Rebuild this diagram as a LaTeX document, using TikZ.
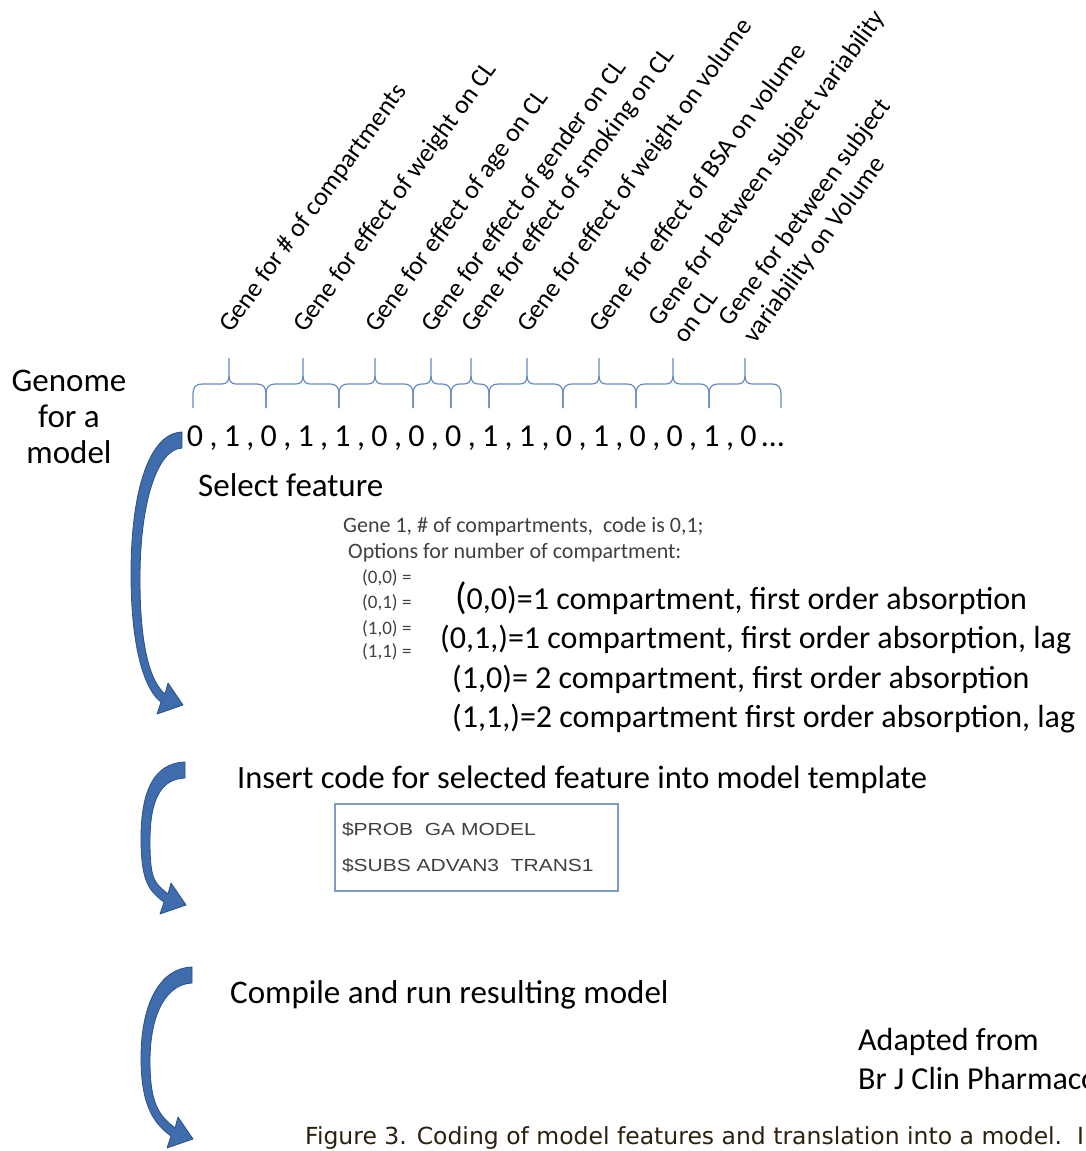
\documentclass[tikz,border=0pt]{standalone}
\usepackage{fontspec}
\setmainfont{Carlito}
\newfontfamily\codefont[FakeStretch=1.2]{Liberation Sans}
\newfontfamily\captionfont{DejaVu Sans}

\definecolor{bracecol}{RGB}{100,140,195}
\definecolor{arrowcol}{RGB}{62,108,172}
\definecolor{arrowedge}{RGB}{45,80,135}
\definecolor{boxcol}{RGB}{125,155,195}
\definecolor{greytext}{RGB}{64,64,64}
\definecolor{captioncol}{RGB}{45,32,15}

\newcommand{\genebrace}[3]{%
  \draw[bracepen] (#1,408) -- (#1,394)
    .. controls (#1,387) and ({#1+3},384) .. ({#1+9},384) -- ({#2-7},384)
    .. controls ({#2-2},384) and (#2,381) .. (#2,375) -- (#2,358)
    (#2,375) .. controls (#2,381) and ({#2+2},384) .. ({#2+7},384) -- ({#3-9},384)
    .. controls ({#3-3},384) and (#3,387) .. (#3,394) -- (#3,408);}

\newcommand{\bentarrow}[4]{%
  \filldraw[arrowpen] (#1,#2)
    .. controls ({#1-32},{#2+1}) and (#4,{#2+0.2*(#3-#2)}) .. (#4,{#2+0.5*(#3-#2)})
    .. controls (#4,{#2+0.78*(#3-#2)}) and ({#1-36},{#3-24}) .. ({#1-21},{#3-13})
    -- ({#1-25},{#3-1}) -- ({#1+1},{#3-10}) -- ({#1-14},{#3-32}) -- ({#1-17},{#3-21})
    .. controls ({#1-30},{#3-32}) and ({#4+9},{#2+0.78*(#3-#2)}) .. ({#4+9},{#2+0.52*(#3-#2)})
    .. controls ({#4+9},{#2+0.24*(#3-#2)}) and ({#1-24},{#2+17}) .. (#1,{#2+16}) -- cycle;}

\tikzset{
  bracepen/.style={draw=bracecol, line width=1.2pt},
  arrowpen/.style={fill=arrowcol, draw=arrowedge, line width=0.8pt, line join=round},
  heading/.style={font=\fontsize{33}{36}\selectfont, inner sep=0, anchor=base west},
  opt/.style={font=\fontsize{32}{36}\selectfont, inner sep=0, anchor=base west},
  small/.style={font=\fontsize{22}{26}\selectfont, text=greytext, inner sep=0, anchor=base west},
  tiny/.style={font=\fontsize{19}{22}\selectfont, text=greytext, inner sep=0, anchor=base west},
  genelabel/.style={font=\fontsize{26}{30}\selectfont, rotate=54, inner sep=0, anchor=base west, align=left},
  bit/.style={font=\fontsize{32}{36}\selectfont, inner sep=0, anchor=base},
  codebox/.style={draw=boxcol, line width=1.2pt, minimum width=283pt, minimum height=87pt,
    text width=269pt, inner xsep=7pt, align=left, text=greytext,
    font=\codefont\fontsize{17.5}{36}\selectfont},
  caption/.style={font=\captionfont\fontsize{23.5}{28}\selectfont, text=captioncol, inner sep=0, anchor=base west}
}

\begin{document}
\begin{tikzpicture}[x=1pt, y=-1pt]
  \useasboundingbox (0,0) rectangle (1085,1151);
  \clip (0,0) rectangle (1085,1151);

  \node[font=\fontsize{33}{36}\selectfont, inner sep=0, align=center] (genome) at (69,417.25) {Genome\\for a\\model};

  \foreach \l/\p/\r in {193/229/266, 266/303/339, 339/375/413, 413/431/451, 451/471/489,
                        489/527/563, 563/599/636, 636/673/709, 709/745/781}
    {\genebrace{\l}{\p}{\r}}

  \foreach \p/\txt [count=\i] in {229/Gene for \# of compartments,
                                  303/Gene for effect of weight on CL,
                                  375/Gene for effect of age on CL,
                                  431/Gene for effect of gender on CL,
                                  471/Gene for effect of smoking on CL,
                                  527/Gene for effect of weight on volume,
                                  599/Gene for effect of BSA on volume}
    \node[genelabel] (gene\i) at (\p+2,334) {\txt};
  \node[genelabel] (gene8) at (685,345) {Gene for between subject variability\\on CL};
  \node[genelabel] (gene9) at (755,345) {Gene for between subject\\variability on Volume};

  \foreach \b [count=\i from 0] in {0,1,0,1,1,0,0,0,1,1,0,1,0,0,1,0}
    \node[bit] (bit\i) at ({195+36.9*\i},446) {\b};
  \foreach \i in {0,...,14}
    \node[bit] (comma\i) at ({213.5+36.9*\i},446) {,};
  \node[bit] (bitdots) at (773,446) {…};

  \node[heading] (select) at (198,496) {Select feature};
  \node[small] (geneone) at (343,532) {Gene 1, \# of compartments,\ \ code is 0,1;};
  \node[small] (options) at (348,558) {Options for number of compartment:};
  \node[tiny] (code00) at (362,583) {(0,0) =};
  \node[tiny] (code01) at (362,608) {(0,1) =};
  \node[tiny] (code10) at (362,634) {(1,0) =};
  \node[tiny] (code11) at (362,657) {(1,1) =};
  \node[opt] (opt00) at (455,609) {{\fontsize{38}{36}\selectfont(}0,0)=1 compartment, first order absorption};
  \node[opt] (opt01) at (440,648) {(0,1,)=1 compartment, first order absorption, lag};
  \node[opt] (opt10) at (452,688) {(1,0)= 2 compartment, first order absorption};
  \node[opt] (opt11) at (452,727) {(1,1,)=2 compartment first order absorption, lag};

  \node[heading, font=\fontsize{32.5}{36}\selectfont] (insert) at (237,788) {Insert code for selected feature into model template};
  \node[codebox] (code) at (476.5,847.5) {\$PROB\ \ GA MODEL\\\$SUBS ADVAN3\ \ TRANS1};

  \node[heading] (compile) at (230,1003) {Compile and run resulting model};
  \node[opt] (adapted) at (858,1050) {Adapted from};
  \node[opt] (source) at (858,1089) {Br J Clin Pharmaco};
  \node[caption] (figcap) at (305,1144) {Figure 3. Coding of model features and translation into a model.\ \ I};

  \bentarrow{182}{432}{715}{131}
  \bentarrow{185}{762}{915}{141}
  \bentarrow{192}{967}{1149}{141}
\end{tikzpicture}
\end{document}
